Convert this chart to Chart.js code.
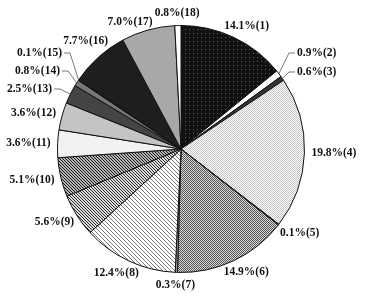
<!DOCTYPE html>
<html>
<head>
<meta charset="utf-8">
<script src="https://cdn.jsdelivr.net/npm/chart.js@4.4.0/dist/chart.umd.min.js"></script>
<style>
  html, body { margin: 0; padding: 0; background: #fff; }
</style>
</head>
<body>
<canvas id="pie" width="367" height="302"></canvas>
<script>
// slice numbers and their shares (%)
var categories = ['1','2','3','4','5','6','7','8','9','10','11','12','13','14','15','16','17','18'];
var shares = [14.1, 0.9, 0.6, 19.8, 0.1, 14.9, 0.3, 12.4, 5.6, 5.1, 3.6, 3.6, 2.5, 0.8, 0.1, 7.7, 7.0, 0.8];

// small slices get a label pulled aside with a leader line (offset from pie centre)
var leaders = {
  1:  [116, -96, 'left'],
  2:  [116, -77, 'left'],
  12: [-129, -60, 'right'],
  13: [-121, -78, 'right'],
  14: [-119, -96, 'right']
};
// little shifts for a couple of crowded labels
var nudges = { 15: [7, -7], 16: [-10, 5] };

function makePattern(size, bg, draw) {
  var c = document.createElement('canvas');
  c.width = c.height = size;
  var x = c.getContext('2d');
  x.fillStyle = bg;
  x.fillRect(0, 0, size, size);
  draw(x, size);
  return x.createPattern(c, 'repeat');
}

function dots(col) {
  return function (x) { x.fillStyle = col; x.fillRect(1, 1, 1, 1); };
}
function checker(col) {
  return function (x) { x.fillStyle = col; x.fillRect(0, 0, 1, 1); x.fillRect(1, 1, 1, 1); };
}
function hatch(col) {
  return function (x, s) {
    x.fillStyle = col;
    for (var i = 0; i < s; i++) x.fillRect(i, i, 1, 1);
  };
}

var fills = [
  makePattern(4, '#111', dots('#5a5a5a')),  // 1
  '#ffffff',                                // 2
  '#333333',                                // 3
  makePattern(2, '#fff', checker('#c4c4c4')), // 4
  '#888888',                                // 5
  makePattern(2, '#d8d8d8', checker('#555')), // 6
  '#999999',                                // 7
  makePattern(4, '#fff', hatch('#777')),    // 8
  makePattern(3, '#dcdcdc', hatch('#2a2a2a')), // 9
  makePattern(3, '#b4b4b4', hatch('#1a1a1a')), // 10
  '#f2f2f2',                                // 11
  '#c4c4c4',                                // 12
  '#444444',                                // 13
  '#777777',                                // 14
  '#555555',                                // 15
  '#1e1e1e',                                // 16
  '#a8a8a8',                                // 17
  '#ffffff'                                 // 18
];

var labelPlugin = {
  id: 'outLabels',
  afterDraw: function (chart) {
    var ctx = chart.ctx;
    var meta = chart.getDatasetMeta(0);
    ctx.save();
    ctx.font = 'bold 11.5px "Liberation Serif"';
    ctx.fillStyle = '#111';
    ctx.strokeStyle = '#555';
    ctx.lineWidth = 0.8;
    ctx.textBaseline = 'middle';
    meta.data.forEach(function (arc, i) {
      var p = arc.getProps(['x', 'y', 'startAngle', 'endAngle', 'outerRadius'], true);
      var mid = (p.startAngle + p.endAngle) / 2;
      var cx = Math.cos(mid), sy = Math.sin(mid);
      var text = shares[i].toFixed(1) + '%(' + categories[i] + ')';
      var w = ctx.measureText(text).width, h = 12;
      if (leaders[i]) {
        var lx = p.x + leaders[i][0], ly = p.y + leaders[i][1];
        var side = leaders[i][2] === 'left' ? -1 : 1;
        var ex = p.x + cx * p.outerRadius, ey = p.y + sy * p.outerRadius;
        ctx.beginPath();
        ctx.moveTo(ex, ey);
        ctx.lineTo(lx + side * 8, ly);
        ctx.lineTo(lx + side * 2, ly);
        ctx.stroke();
        ctx.textAlign = leaders[i][2];
        ctx.fillText(text, lx, ly);
      } else {
        var r = p.outerRadius + 7;
        var n = nudges[i] || [0, 0];
        var tx = p.x + cx * r + cx * w / 2 + n[0];
        var ty = p.y + sy * r + sy * h / 2 + n[1];
        ctx.textAlign = 'center';
        ctx.fillText(text, tx, ty);
      }
    });
    ctx.restore();
  }
};

new Chart(document.getElementById('pie'), {
  type: 'pie',
  data: {
    labels: categories,
    datasets: [{
      data: shares,
      backgroundColor: fills,
      borderColor: '#111',
      borderWidth: 1
    }]
  },
  options: {
    responsive: false,
    animation: false,
    layout: { padding: { top: 25, bottom: 29, left: 40, right: 45 } },
    plugins: {
      legend: { display: false },
      tooltip: { enabled: false }
    }
  },
  plugins: [labelPlugin]
});
</script>
</body>
</html>
